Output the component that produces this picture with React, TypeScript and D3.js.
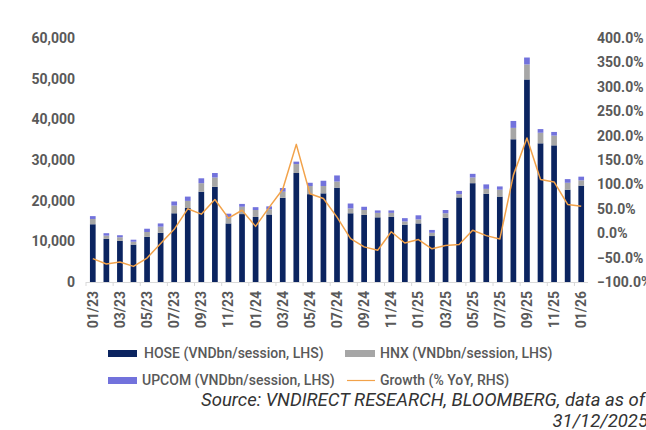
import React from 'react';
import * as d3 from 'd3';

const months = [
  '01/23', '02/23', '03/23', '04/23', '05/23', '06/23', '07/23', '08/23', '09/23', '10/23', '11/23', '12/23',
  '01/24', '02/24', '03/24', '04/24', '05/24', '06/24', '07/24', '08/24', '09/24', '10/24', '11/24', '12/24',
  '01/25', '02/25', '03/25', '04/25', '05/25', '06/25', '07/25', '08/25', '09/25', '10/25', '11/25', '12/25',
  '01/26',
];

// VNDbn/session
const hose = [
  14200, 10600, 10100, 9200, 11100, 12100, 16900, 18200, 22200, 23400, 14400, 16700,
  16000, 16600, 20700, 26800, 21600, 21800, 23200, 16900, 16500, 15900, 16000, 14100,
  14400, 11300, 15800, 20800, 24300, 21700, 21000, 35100, 49800, 34100, 33600, 22700,
  23700,
];
const hnx = [
  1300, 800, 900, 700, 1200, 1500, 1900, 1750, 2100, 2300, 1500, 1800,
  1700, 1300, 1500, 2200, 2000, 1800, 1500, 1200, 1200, 1100, 1000, 800,
  1000, 800, 1100, 800, 1400, 1200, 1700, 2800, 3700, 2600, 2400, 1700,
  1300,
];
const upcom = [
  700, 600, 500, 500, 800, 800, 1000, 1050, 1200, 1100, 900, 700,
  700, 700, 900, 600, 800, 1300, 1500, 1200, 800, 600, 600, 800,
  1000, 700, 800, 800, 900, 1100, 800, 1700, 1700, 900, 900, 900,
  900,
];
// % YoY
const growth = [
  -52, -63, -59, -68, -51, -21, 8, 50, 39, 69, 31, 47,
  14, 53, 90, 182, 81, 71, 33, -11, -28, -35, 3, -20,
  -13, -32, -25, -23, 6, -5, -12, 119, 195, 110, 105, 59,
  55,
];

const leftTicks = [0, 10000, 20000, 30000, 40000, 50000, 60000];
const rightTicks = [-100, -50, 0, 50, 100, 150, 200, 250, 300, 350, 400];

const seriesKeys = ['hose', 'hnx', 'upcom'];
const colors: Record<string, string> = {
  hose: '#0b2460',
  hnx: '#a6a6a6',
  upcom: '#7272dc',
};
const lineColor = '#f2a24a';
const textColor = '#595959';
const font = 'Roboto, "Noto Sans", sans-serif';

export default function App() {
  const top = 38;
  const bottom = 282;

  const x = d3.scaleBand<string>().domain(months).range([86, 588]).paddingInner(0.58).paddingOuter(0.29);
  const yL = d3.scaleLinear().domain([0, 60000]).range([bottom, top]);
  const yR = d3.scaleLinear().domain([-100, 400]).range([bottom, top]);

  const rows = months.map((m, i) => ({ month: m, hose: hose[i], hnx: hnx[i], upcom: upcom[i] }));
  const stacked = d3.stack<any>().keys(seriesKeys)(rows);

  const cx = (m: string) => (x(m) ?? 0) + x.bandwidth() / 2;
  const line = d3
    .line<number>()
    .x((_, i) => cx(months[i]))
    .y((d) => yR(d));

  const step = x.step();
  const tickXs = months.filter((_, i) => i % 2 === 0).map((m) => cx(m) - step / 2);

  return (
    <svg width={646} height={430} style={{ position: 'absolute', left: 0, top: 0, background: '#fff' }}>
      {/* bars */}
      {stacked.map((s) => (
        <g key={s.key} fill={colors[s.key]}>
          {s.map((d, i) => (
            <rect
              key={i}
              x={x(months[i])}
              y={yL(d[1])}
              width={x.bandwidth()}
              height={yL(d[0]) - yL(d[1])}
            />
          ))}
        </g>
      ))}

      {/* x axis */}
      <line x1={86} x2={588} y1={bottom + 0.5} y2={bottom + 0.5} stroke="#d9d9d9" />
      {tickXs.map((tx, i) => (
        <line key={i} x1={tx} x2={tx} y1={bottom} y2={bottom + 4} stroke="#d9d9d9" />
      ))}
      {months.map((m, i) =>
        i % 2 === 0 ? (
          <text
            key={m}
            transform={`translate(${cx(m) + 5},${bottom + 9}) rotate(-90)`}
            textAnchor="end"
            fontFamily={font}
            fontSize={14}
            fontWeight={700}
            fill={textColor}
          >
            {m}
          </text>
        ) : null
      )}

      {/* growth line */}
      <path d={line(growth) ?? ''} fill="none" stroke={lineColor} strokeWidth={1.5} strokeLinejoin="round" />

      {/* left axis */}
      {leftTicks.map((t) => (
        <text
          key={t}
          x={75}
          y={yL(t)}
          dy="0.35em"
          textAnchor="end"
          fontFamily={font}
          fontSize={14}
          fontWeight={700}
          fill={textColor}
        >
          {d3.format(',')(t)}
        </text>
      ))}

      {/* right axis */}
      {rightTicks.map((t) => (
        <text
          key={t}
          x={597}
          y={yR(t)}
          dy="0.35em"
          fontFamily={font}
          fontSize={14}
          fontWeight={700}
          fill={textColor}
        >
          {d3.format('.1f')(t) + '%'}
        </text>
      ))}

      {/* legend */}
      <g fontFamily={font} fontSize={14} fontWeight={500} fill={textColor}>
        <rect x={108} y={350} width={29} height={7} fill={colors.hose} />
        <text x={144} y={358}>HOSE (VNDbn/session, LHS)</text>
        <rect x={345} y={350} width={30} height={7} fill={colors.hnx} />
        <text x={380} y={358}>HNX (VNDbn/session, LHS)</text>
        <rect x={108} y={377} width={29} height={7} fill={colors.upcom} />
        <text x={142} y={385}>UPCOM (VNDbn/session, LHS)</text>
        <line x1={347} x2={375} y1={380.5} y2={380.5} stroke={lineColor} strokeWidth={1.2} />
        <text x={380} y={385}>Growth (% YoY, RHS)</text>
      </g>

      {/* source */}
      <g fontFamily={font} fontSize={18.5} fontStyle="italic" fill="#333" textAnchor="end">
        <text x={645} y={406}>Source: VNDIRECT RESEARCH, BLOOMBERG, data as of</text>
        <text x={648} y={427}>31/12/2025</text>
      </g>
    </svg>
  );
}
